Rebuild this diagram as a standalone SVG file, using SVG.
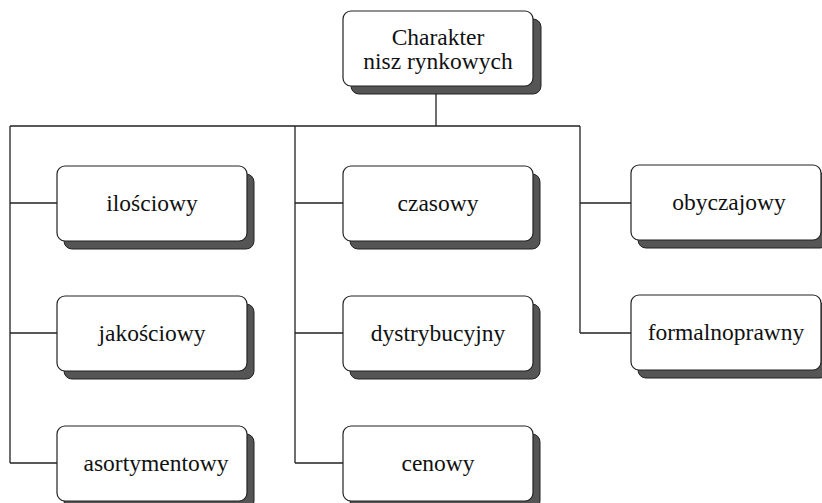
<svg xmlns="http://www.w3.org/2000/svg" width="822" height="503" viewBox="0 0 822 503">
<style>
.sh{fill:#555;stroke:#222;stroke-width:1}
.bx{fill:#fff;stroke:#222;stroke-width:1.2}
.t{font-family:"Liberation Serif","Times New Roman",serif;font-size:23.5px;fill:#111;text-anchor:middle}
.c{fill:none;stroke:#222;stroke-width:1.3}
</style>
<rect width="822" height="503" fill="#fff"/>
<g id="connectors" class="c">
<path d="M436 86V126M10 126H580M10 126V463M295 126V463M580 126V333"/>
<path d="M10 203H57M10 333H57M10 463H57M295 203H343M295 333H343M295 463H343M580 203H631M580 333H631"/>
</g>
<g id="root"><rect class="sh" x="351" y="19" width="190" height="75" rx="8"/><rect class="bx" x="343" y="11" width="190" height="75" rx="8"/><text class="t" x="438" y="45">Charakter</text><text class="t" x="438" y="69">nisz rynkowych</text></g>
<g id="ilosciowy"><rect class="sh" x="64" y="174" width="190" height="75" rx="8"/><rect class="bx" x="57" y="166" width="190" height="75" rx="8"/><text class="t" x="152" y="211">ilościowy</text></g>
<g id="jakosciowy"><rect class="sh" x="64" y="304" width="190" height="75" rx="8"/><rect class="bx" x="57" y="296" width="190" height="75" rx="8"/><text class="t" x="152" y="341">jakościowy</text></g>
<g id="asortymentowy"><rect class="sh" x="64" y="434" width="190" height="75" rx="8"/><rect class="bx" x="57" y="426" width="190" height="75" rx="8"/><text class="t" x="156" y="471">asortymentowy</text></g>
<g id="czasowy"><rect class="sh" x="350" y="174" width="190" height="75" rx="8"/><rect class="bx" x="343" y="166" width="190" height="75" rx="8"/><text class="t" x="438" y="211">czasowy</text></g>
<g id="dystrybucyjny"><rect class="sh" x="350" y="304" width="190" height="75" rx="8"/><rect class="bx" x="343" y="296" width="190" height="75" rx="8"/><text class="t" x="438" y="341">dystrybucyjny</text></g>
<g id="cenowy"><rect class="sh" x="350" y="434" width="190" height="75" rx="8"/><rect class="bx" x="343" y="426" width="190" height="75" rx="8"/><text class="t" x="438" y="471">cenowy</text></g>
<g id="obyczajowy"><rect class="sh" x="638" y="173" width="190" height="75" rx="8"/><rect class="bx" x="631" y="165" width="190" height="75" rx="8"/><text class="t" x="729" y="210">obyczajowy</text></g>
<g id="formalnoprawny"><rect class="sh" x="638" y="303" width="190" height="75" rx="8"/><rect class="bx" x="631" y="295" width="190" height="75" rx="8"/><text class="t" x="726" y="340">formalnoprawny</text></g>
</svg>
